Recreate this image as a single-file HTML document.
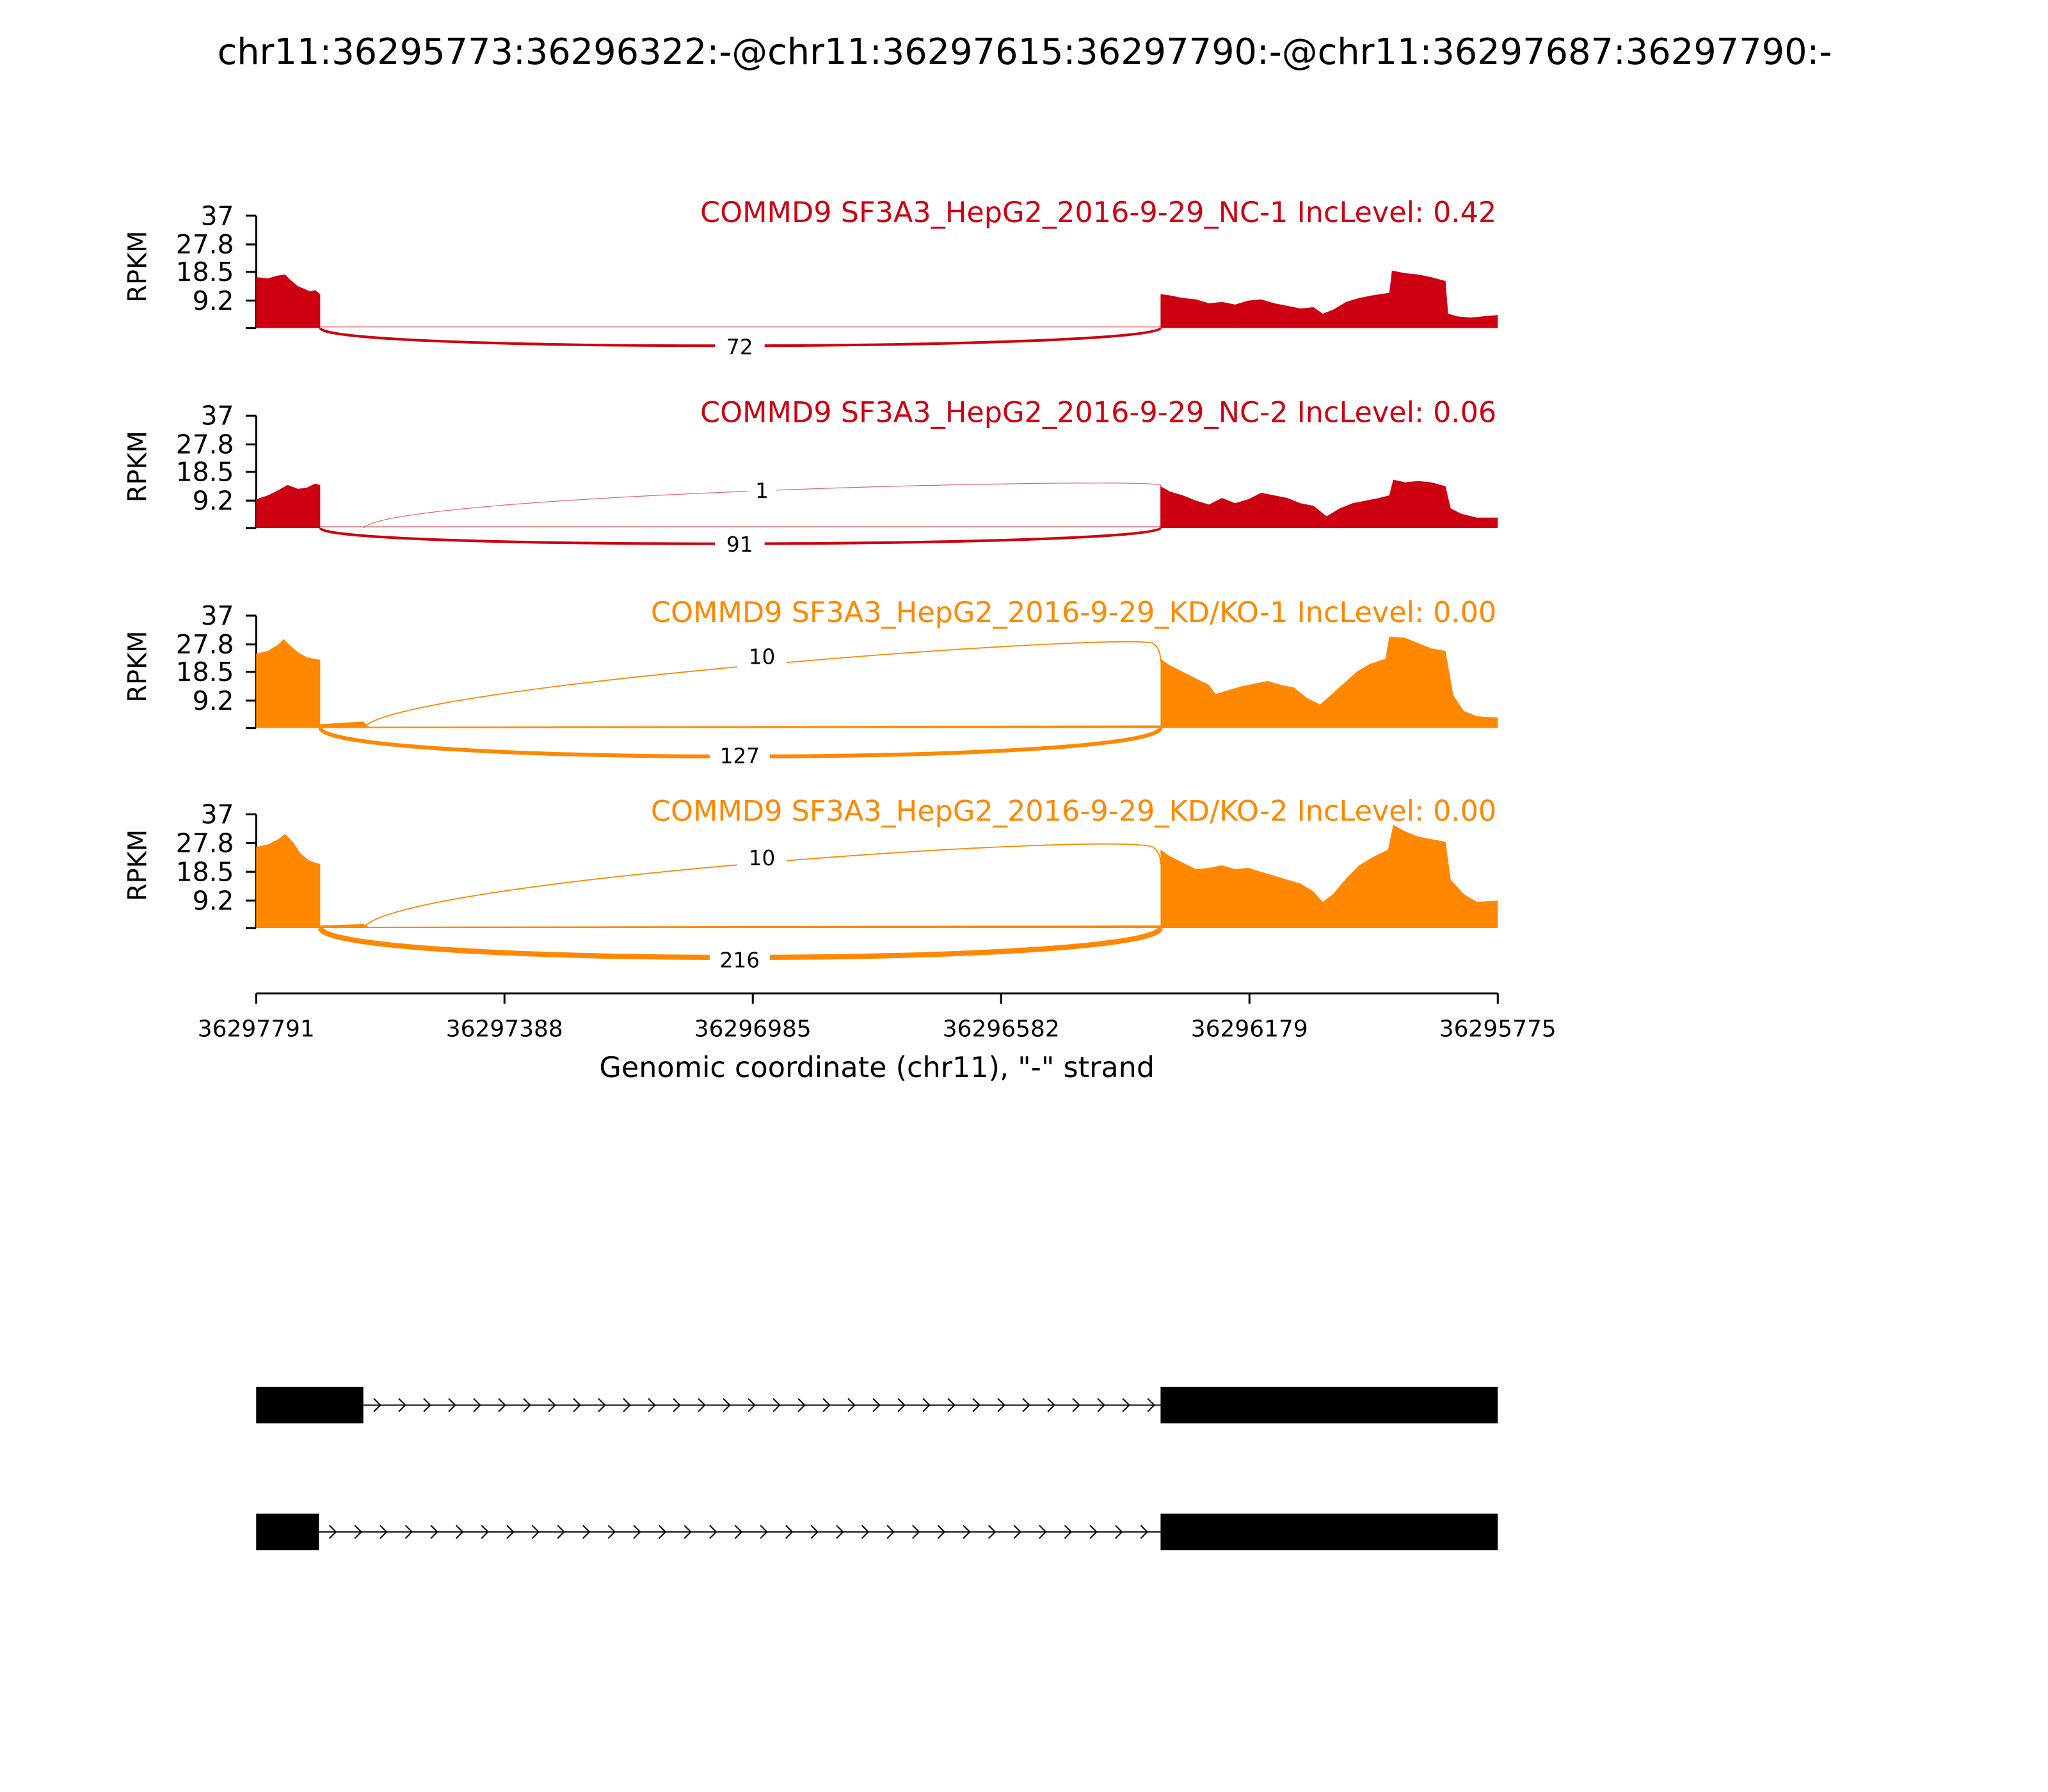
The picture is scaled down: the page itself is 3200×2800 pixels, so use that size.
<!DOCTYPE html>
<html><head><meta charset="utf-8"><style>
html,body{margin:0;padding:0;background:#fff;}
svg{display:block;}
text{font-family:"DejaVu Sans","Liberation Sans",sans-serif;}
</style></head><body>
<svg width="3200" height="2800" viewBox="0 0 1567 1371" preserveAspectRatio="none" xmlns="http://www.w3.org/2000/svg">
<rect width="1567" height="1371" fill="#fff"/>
<text x="784" y="49" font-size="27.3" text-anchor="middle">chr11:36295773:36296322:-@chr11:36297615:36297790:-@chr11:36297687:36297790:-</text>

<!-- Panel 1 -->
<g>
<g stroke="#000" stroke-width="1.5" fill="none">
<line x1="196" y1="165" x2="196" y2="251"/>
<line x1="188" y1="165" x2="196" y2="165"/><line x1="188" y1="187" x2="196" y2="187"/><line x1="188" y1="208" x2="196" y2="208"/><line x1="188" y1="230" x2="196" y2="230"/><line x1="188" y1="251" x2="196" y2="251"/>
</g>
<g font-size="20" text-anchor="end"><text x="179" y="172">37</text><text x="179" y="194">27.8</text><text x="179" y="215">18.5</text><text x="179" y="237">9.2</text></g>
<text transform="translate(112,204) rotate(-90)" font-size="19.5" text-anchor="middle">RPKM</text>
<text x="1145" y="170" font-size="21.8" text-anchor="end" fill="#cc0011">COMMD9 SF3A3_HepG2_2016-9-29_NC-1 IncLevel: 0.42</text>
<path fill="#cc0011" d="M196,251 L196,212 L205,213 L212,211 L218,210 L222,214 L228,219 L233,221 L237,223 L241,222 L245,225 L245,251 Z"/>
<path fill="#cc0011" d="M888,251 L888,225 L895,226 L905,228 L915,229 L925,232 L935,231 L945,233 L955,230 L965,229 L975,232 L985,234 L995,236 L1005,235 L1012,240 L1020,237 L1030,231 L1040,228 L1050,226 L1063,224 L1065,207 L1075,209 L1085,210 L1095,212 L1106,215 L1108,240 L1115,242 L1125,243 L1135,242 L1146,241 L1146,251 Z"/>
<line x1="245" y1="250" x2="888" y2="250" stroke="#cc0011" stroke-width="1" opacity="0.4"/>
<path d="M245,251 C250,270 880,268 888,251" fill="none" stroke="#cc0011" stroke-width="2"/>
<rect x="547" y="256" width="38" height="18" fill="#fff"/>
<text x="566" y="271" font-size="16" text-anchor="middle">72</text>
</g>

<!-- Panel 2 -->
<g transform="translate(0,153)">
<g stroke="#000" stroke-width="1.5" fill="none">
<line x1="196" y1="165" x2="196" y2="251"/>
<line x1="188" y1="165" x2="196" y2="165"/><line x1="188" y1="187" x2="196" y2="187"/><line x1="188" y1="208" x2="196" y2="208"/><line x1="188" y1="230" x2="196" y2="230"/><line x1="188" y1="251" x2="196" y2="251"/>
</g>
<g font-size="20" text-anchor="end"><text x="179" y="172">37</text><text x="179" y="194">27.8</text><text x="179" y="215">18.5</text><text x="179" y="237">9.2</text></g>
<text transform="translate(112,204) rotate(-90)" font-size="19.5" text-anchor="middle">RPKM</text>
<text x="1145" y="170" font-size="21.8" text-anchor="end" fill="#cc0011">COMMD9 SF3A3_HepG2_2016-9-29_NC-2 IncLevel: 0.06</text>
<path fill="#cc0011" d="M196,251 L196,229 L205,226 L213,222 L220,218 L228,221 L235,220 L241,217 L245,218 L245,251 Z"/>
<path fill="#cc0011" d="M888,251 L888,219 L895,223 L905,226 L915,230 L925,233 L935,228 L945,232 L955,229 L965,224 L975,226 L985,228 L995,232 L1005,234 L1015,242 L1025,236 L1035,232 L1045,230 L1055,228 L1063,226 L1066,214 L1075,216 L1085,215 L1095,216 L1106,219 L1110,236 L1118,240 L1130,243 L1146,243 L1146,251 Z"/>
<line x1="245" y1="250" x2="888" y2="250" stroke="#cc0011" stroke-width="1" opacity="0.4"/>
<path d="M278,251 C300,225 860,212 888,218 L888,251" fill="none" stroke="#cc0011" stroke-width="0.6" opacity="0.6"/>
<rect x="572" y="213" width="22" height="18" fill="#fff"/>
<text x="583" y="228" font-size="16" text-anchor="middle">1</text>
<path d="M245,251 C250,268 880,266 888,251" fill="none" stroke="#cc0011" stroke-width="2"/>
<rect x="547" y="254" width="38" height="18" fill="#fff"/>
<text x="566" y="269" font-size="16" text-anchor="middle">91</text>
</g>

<!-- Panel 3 -->
<g transform="translate(0,306)">
<g stroke="#000" stroke-width="1.5" fill="none">
<line x1="196" y1="165" x2="196" y2="251"/>
<line x1="188" y1="165" x2="196" y2="165"/><line x1="188" y1="187" x2="196" y2="187"/><line x1="188" y1="208" x2="196" y2="208"/><line x1="188" y1="230" x2="196" y2="230"/><line x1="188" y1="251" x2="196" y2="251"/>
</g>
<g font-size="20" text-anchor="end"><text x="179" y="172">37</text><text x="179" y="194">27.8</text><text x="179" y="215">18.5</text><text x="179" y="237">9.2</text></g>
<text transform="translate(112,204) rotate(-90)" font-size="19.5" text-anchor="middle">RPKM</text>
<text x="1145" y="170" font-size="21.8" text-anchor="end" fill="#ff8800">COMMD9 SF3A3_HepG2_2016-9-29_KD/KO-1 IncLevel: 0.00</text>
<path fill="#ff8800" d="M196,251 L196,194 L205,192 L213,187 L217,183 L222,188 L228,193 L235,197 L241,198 L245,199 L245,251 Z"/>
<path d="M245,251 L245,248 L278,246 L282,250 L888,249 L888,251 Z" fill="#ff8800"/>
<path fill="#ff8800" d="M888,251 L888,198 L895,203 L905,208 L915,213 L925,218 L930,225 L940,222 L950,219 L960,217 L970,215 L980,218 L990,220 L1000,228 L1010,233 L1018,226 L1028,217 L1038,208 L1048,202 L1060,198 L1063,181 L1075,182 L1085,186 L1095,190 L1106,192 L1112,226 L1120,238 L1130,242 L1146,243 L1146,251 Z"/>
<path d="M278,251 C300,218 850,178 882,186 Q888,190 888,200" fill="none" stroke="#ff8800" stroke-width="0.9"/>
<rect x="564" y="187" width="38" height="18" fill="#fff"/>
<text x="583" y="202" font-size="16" text-anchor="middle">10</text>
<path d="M245,251 C252,280 880,280 888,251" fill="none" stroke="#ff8800" stroke-width="3"/>
<rect x="543" y="263" width="46" height="18" fill="#fff"/>
<text x="566" y="278" font-size="16" text-anchor="middle">127</text>
</g>

<!-- Panel 4 -->
<g transform="translate(0,458)">
<g stroke="#000" stroke-width="1.5" fill="none">
<line x1="196" y1="165" x2="196" y2="252"/>
<line x1="188" y1="165" x2="196" y2="165"/><line x1="188" y1="187" x2="196" y2="187"/><line x1="188" y1="209" x2="196" y2="209"/><line x1="188" y1="231" x2="196" y2="231"/><line x1="188" y1="252" x2="196" y2="252"/>
</g>
<g font-size="20" text-anchor="end"><text x="179" y="172">37</text><text x="179" y="194">27.8</text><text x="179" y="216">18.5</text><text x="179" y="238">9.2</text></g>
<text transform="translate(112,204) rotate(-90)" font-size="19.5" text-anchor="middle">RPKM</text>
<text x="1145" y="170" font-size="21.8" text-anchor="end" fill="#ff8800">COMMD9 SF3A3_HepG2_2016-9-29_KD/KO-2 IncLevel: 0.00</text>
<path fill="#ff8800" d="M196,252 L196,190 L205,188 L213,184 L218,180 L224,186 L230,195 L236,200 L241,202 L245,203 L245,252 Z"/>
<path d="M245,252 L245,250 L278,249 L282,251 L888,250 L888,252 Z" fill="#ff8800"/>
<path fill="#ff8800" d="M888,252 L888,192 L895,197 L905,202 L915,207 L925,206 L935,204 L945,207 L955,206 L965,209 L975,212 L985,215 L995,218 L1005,224 L1012,232 L1020,226 L1030,214 L1040,204 L1050,198 L1062,192 L1066,173 L1075,178 L1085,182 L1095,184 L1106,186 L1110,215 L1120,226 L1130,232 L1146,231 L1146,252 Z"/>
<path d="M278,252 C300,215 850,178 882,190 Q888,194 888,203" fill="none" stroke="#ff8800" stroke-width="0.9"/>
<rect x="564" y="189" width="38" height="18" fill="#fff"/>
<text x="583" y="204" font-size="16" text-anchor="middle">10</text>
<path d="M245,252 C252,282 880,282 888,252" fill="none" stroke="#ff8800" stroke-width="4"/>
<rect x="543" y="267" width="46" height="18" fill="#fff"/>
<text x="566" y="282" font-size="16" text-anchor="middle">216</text>
</g>

<!-- X axis -->
<g stroke="#000" stroke-width="1.5">
<line x1="196" y1="760" x2="1146" y2="760"/>
<line x1="196" y1="760" x2="196" y2="768"/><line x1="386" y1="760" x2="386" y2="768"/><line x1="576" y1="760" x2="576" y2="768"/><line x1="766" y1="760" x2="766" y2="768"/><line x1="956" y1="760" x2="956" y2="768"/><line x1="1146" y1="760" x2="1146" y2="768"/>
</g>
<g font-size="17.6" text-anchor="middle">
<text x="196" y="793">36297791</text><text x="386" y="793">36297388</text><text x="576" y="793">36296985</text><text x="766" y="793">36296582</text><text x="956" y="793">36296179</text><text x="1146" y="793">36295775</text>
</g>
<text x="671" y="824" font-size="21.8" text-anchor="middle">Genomic coordinate (chr11), "-" strand</text>

<!-- Gene models -->
<defs>
<pattern id="arr1" x="280" y="1065" width="19.1" height="20" patternUnits="userSpaceOnUse">
<path d="M6,5 L11,10 L6,15" fill="none" stroke="#000" stroke-width="1"/>
</pattern>
<pattern id="arr2" x="246" y="1162" width="19.4" height="20" patternUnits="userSpaceOnUse">
<path d="M6,5 L11,10 L6,15" fill="none" stroke="#000" stroke-width="1"/>
</pattern>
</defs>
<rect x="196" y="1061" width="82" height="28" fill="#000"/>
<line x1="278" y1="1075" x2="888" y2="1075" stroke="#000" stroke-width="1"/>
<rect x="280" y="1065" width="606" height="20" fill="url(#arr1)"/>
<rect x="888" y="1061" width="258" height="28" fill="#000"/>

<rect x="196" y="1158" width="48" height="28" fill="#000"/>
<line x1="244" y1="1172" x2="888" y2="1172" stroke="#000" stroke-width="1"/>
<rect x="246" y="1162" width="640" height="20" fill="url(#arr2)"/>
<rect x="888" y="1158" width="258" height="28" fill="#000"/>
</svg>
</body></html>
